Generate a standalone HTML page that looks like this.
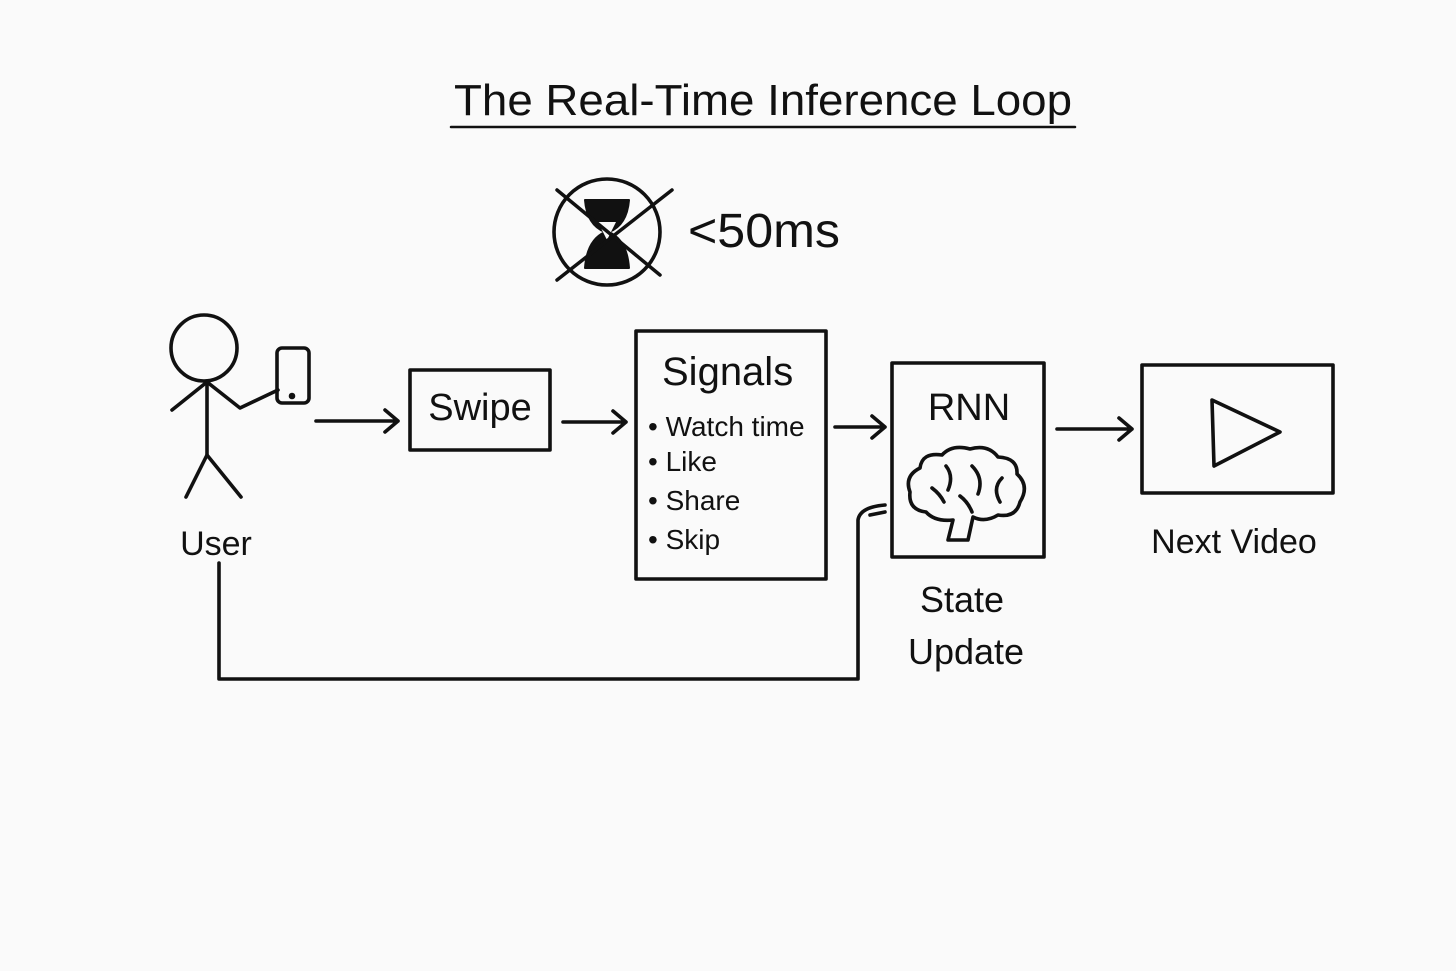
<!DOCTYPE html>
<html><head><meta charset="utf-8"><style>
html,body{margin:0;padding:0;background:#fafafa;}
svg{display:block}
text{font-family:"Liberation Sans",sans-serif;fill:#111}
</style></head><body>
<svg width="1456" height="971" viewBox="0 0 1456 971" xmlns="http://www.w3.org/2000/svg">
<rect width="1456" height="971" fill="#fafafa"/>
<g stroke="#111" stroke-width="3.6" fill="none" stroke-linecap="round" stroke-linejoin="round">
<text x="763" y="115" font-size="44" text-anchor="middle" stroke="none" textLength="618" lengthAdjust="spacingAndGlyphs">The Real-Time Inference Loop</text>
<line x1="451" y1="127" x2="1075" y2="127" stroke-width="2.5"/>
<!-- hourglass -->
<circle cx="607" cy="232" r="53"/>
<path d="M585 200 H629 Q627 225 609 232 Q627 240 629 268 H585 Q587 240 605 232 Q587 225 585 200Z" fill="#111" stroke-width="2"/>
<path d="M598 222 L616 222 L607 240 Z" fill="#fafafa" stroke="none"/>
<line x1="557" y1="190" x2="660" y2="275" stroke-width="3.5"/>
<line x1="672" y1="190" x2="557" y2="280" stroke-width="3.5"/>
<text x="688" y="247" font-size="48" stroke="none" textLength="152" lengthAdjust="spacingAndGlyphs">&lt;50ms</text>
<!-- user -->
<circle cx="204" cy="348" r="33"/>
<line x1="207" y1="381" x2="207" y2="455"/>
<polyline points="172,410 207,382 240,408 278,390"/>
<polyline points="186,497 207,455 241,497"/>
<rect x="277" y="348" width="32" height="55" rx="5"/>
<circle cx="292" cy="396" r="1.5" fill="#111"/>
<text x="216" y="555" font-size="34" text-anchor="middle" stroke="none">User</text>
<!-- arrows -->
<path d="M316 421 H398 M385 410 L398 421 L385 432"/>
<path d="M563 422 H626 M613 411 L626 422 L613 433"/>
<path d="M835 427 H885 M872 416 L885 427 L872 438"/>
<path d="M1057 429 H1132 M1119 418 L1132 429 L1119 440"/>
<!-- swipe -->
<rect x="410" y="370" width="140" height="80"/>
<text x="480" y="420" font-size="38" text-anchor="middle" stroke="none">Swipe</text>
<!-- signals -->
<rect x="636" y="331" width="190" height="248"/>
<text x="662" y="385" font-size="40" stroke="none">Signals</text>
<g stroke="none" font-size="28">
<text x="648" y="436">• Watch time</text>
<text x="648" y="471">• Like</text>
<text x="648" y="510">• Share</text>
<text x="648" y="549">• Skip</text>
</g>
<!-- RNN -->
<rect x="892" y="363" width="152" height="194"/>
<text x="969" y="420" font-size="38" text-anchor="middle" stroke="none">RNN</text>
<path d="M948 540 L953 520 Q935 522 926 512 Q908 510 910 492 Q904 476 920 468 Q922 452 942 455 Q952 444 970 449 Q988 444 998 457 Q1018 458 1017 474 Q1030 486 1020 502 Q1016 518 998 515 Q985 523 973 517 L968 540 Z"/>
<path d="M946 466 Q954 476 948 490 M972 466 Q984 478 978 494 M1002 478 Q992 488 1000 502 M932 488 Q940 494 944 502 M960 496 Q968 502 972 512"/>
<!-- video -->
<rect x="1142" y="365" width="191" height="128"/>
<path d="M1212 400 L1280 432 L1214 466 Z"/>
<text x="1234" y="553" font-size="34" text-anchor="middle" stroke="none">Next Video</text>
<text x="962" y="612" font-size="36" text-anchor="middle" stroke="none">State</text>
<text x="966" y="664" font-size="36" text-anchor="middle" stroke="none">Update</text>
<!-- feedback -->
<path d="M219 563 V679 H858 V520 Q860 507 885 505"/>
<path d="M870 515 L885 512"/>
</g>
</svg>
</body></html>
